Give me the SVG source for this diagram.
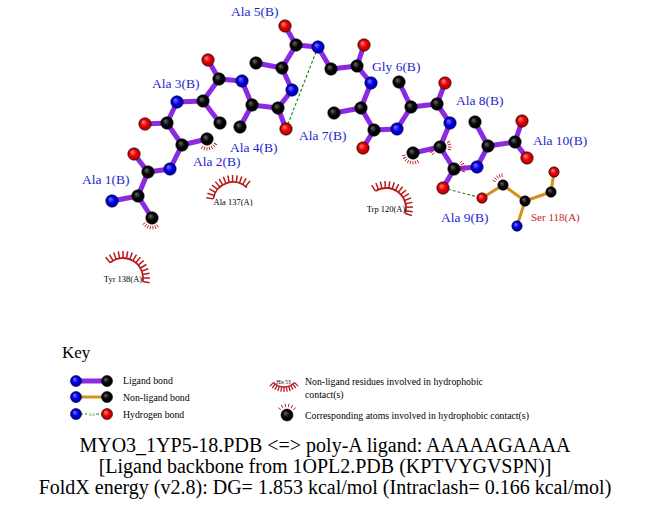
<svg xmlns="http://www.w3.org/2000/svg" xmlns:xlink="http://www.w3.org/1999/xlink" width="651" height="511" viewBox="0 0 651 511">
<defs>
<style>
text{font-family:"Liberation Serif","Times New Roman",serif}
.lab{font-size:13.5px;fill:#1f1fd0}
.res{font-size:8.5px;fill:#000}
.ser{font-size:11px;fill:#c81e1e}
.key{font-size:9.8px;fill:#000}
.tiny{font-size:5.5px;fill:#000}
.ttl{font-size:20px;fill:#000;text-anchor:middle}
.lig{stroke:#8a2be2;stroke-width:5;fill:none}
.nl{stroke:#d4901e;stroke-width:3;fill:none}
.hb{stroke:#1f8f1f;stroke-width:1.2;stroke-dasharray:3 2;fill:none}
.C{fill:url(#gC);stroke:#000;stroke-width:0.6}
.N{fill:url(#gN);stroke:#000;stroke-width:0.6}
.O{fill:url(#gO);stroke:#000;stroke-width:0.6}
.arc{stroke:#b81c1c;stroke-width:1.8;fill:none}
.tks{stroke:#c42020;stroke-width:0.9}
</style>
<radialGradient id="gC" cx="0.5" cy="0.5" r="0.5" fx="0.35" fy="0.32"><stop offset="0" stop-color="#6a6a6a"/><stop offset="0.55" stop-color="#050505"/><stop offset="1" stop-color="#000"/></radialGradient>
<radialGradient id="gN" cx="0.5" cy="0.5" r="0.5" fx="0.35" fy="0.32"><stop offset="0" stop-color="#7a7aff"/><stop offset="0.55" stop-color="#0000e8"/><stop offset="1" stop-color="#0000b0"/></radialGradient>
<radialGradient id="gO" cx="0.5" cy="0.5" r="0.5" fx="0.35" fy="0.32"><stop offset="0" stop-color="#ff8a8a"/><stop offset="0.55" stop-color="#e80000"/><stop offset="1" stop-color="#b00000"/></radialGradient>
<line id="tk" x1="8" y1="0" x2="11.5" y2="0"/>
<line id="sp" x1="20" y1="0" x2="27" y2="0"/>
<line id="sk" x1="15" y1="0" x2="20" y2="0"/>
</defs>

<g id="connectors">
<path class="lig" d="M112,201L138,196 M138,196L152,218 M138,196L148,172 M148,172L134,154 M148,172L170,169
M170,169L182,145 M182,145L207,139 M182,145L167,123 M167,123L145,124 M167,123L177,102
M177,102L203,101 M203,101L220,123 M203,101L219,79 M219,79L208,60 M219,79L242,81
M242,81L252,105 M252,105L240,127 M252,105L278,108 M278,108L286,129 M278,108L292,90
M292,90L282,68 M282,68L256,63 M282,68L296,45 M296,45L285,26 M296,45L318,47
M318,47L331,69 M331,69L357,66 M357,66L364,45 M357,66L371,83
M371,83L361,108 M361,108L334,113 M361,108L374,130 M374,130L363,148 M374,130L397,129
M397,129L411,107 M411,107L399,82 M411,107L437,104 M437,104L445,83 M437,104L450,123
M450,123L440,147 M440,147L413,153 M440,147L454,169 M454,169L443,188 M454,169L477,167
M477,167L488,146 M488,146L475,122 M488,146L515,142 M515,142L522,121 M515,142L527,158"/>
<path class="nl" d="M482,198L503,185 M503,185L525,201 M525,201L551,192 M551,192L554,172 M525,201L517,226"/>
<path class="hb" d="M286,129L318,47 M443,188L482,198"/>
</g>

<g id="spikes" class="tks">
<g transform="translate(207,139)"><use href="#tk" transform="rotate(30)"/><use href="#tk" transform="rotate(45)"/><use href="#tk" transform="rotate(60)"/><use href="#tk" transform="rotate(75)"/><use href="#tk" transform="rotate(90)"/><use href="#tk" transform="rotate(105)"/><use href="#tk" transform="rotate(120)"/></g>
<g transform="translate(152,218)"><use href="#tk" transform="rotate(55)"/><use href="#tk" transform="rotate(70)"/><use href="#tk" transform="rotate(85)"/><use href="#tk" transform="rotate(100)"/><use href="#tk" transform="rotate(115)"/><use href="#tk" transform="rotate(130)"/><use href="#tk" transform="rotate(145)"/></g>
<g transform="translate(413,153)"><use href="#tk" transform="rotate(60)"/><use href="#tk" transform="rotate(75)"/><use href="#tk" transform="rotate(90)"/><use href="#tk" transform="rotate(105)"/><use href="#tk" transform="rotate(120)"/><use href="#tk" transform="rotate(135)"/><use href="#tk" transform="rotate(150)"/><use href="#tk" transform="rotate(165)"/></g>
<g transform="translate(440,147)"><use href="#tk" transform="rotate(135)"/><use href="#tk" transform="rotate(150)"/><use href="#tk" transform="rotate(165)"/><use href="#tk" transform="rotate(-15)"/><use href="#tk" transform="rotate(0)"/><use href="#tk" transform="rotate(15)"/><use href="#tk" transform="rotate(-30)"/></g>
<g transform="translate(454,169)"><use href="#tk" transform="rotate(-45)"/><use href="#tk" transform="rotate(-30)"/><use href="#tk" transform="rotate(-15)"/><use href="#tk" transform="rotate(0)"/><use href="#tk" transform="rotate(15)"/></g>
<g transform="translate(503,185)"><use href="#tk" transform="rotate(-95)"/><use href="#tk" transform="rotate(-110)"/><use href="#tk" transform="rotate(-125)"/><use href="#tk" transform="rotate(-140)"/><use href="#tk" transform="rotate(-155)"/></g>
</g>

<g id="atoms">
<circle class="N" cx="112" cy="201" r="6.2"/><circle class="C" cx="138" cy="196" r="6.2"/><circle class="C" cx="152" cy="218" r="6.2"/><circle class="C" cx="148" cy="172" r="6.2"/><circle class="O" cx="134" cy="154" r="6.2"/>
<circle class="N" cx="170" cy="169" r="6.2"/><circle class="C" cx="182" cy="145" r="6.2"/><circle class="C" cx="207" cy="139" r="6.2"/><circle class="C" cx="167" cy="123" r="6.2"/><circle class="O" cx="145" cy="124" r="6.2"/>
<circle class="N" cx="177" cy="102" r="6.2"/><circle class="C" cx="203" cy="101" r="6.2"/><circle class="C" cx="220" cy="123" r="6.2"/><circle class="C" cx="219" cy="79" r="6.2"/><circle class="O" cx="208" cy="60" r="6.2"/>
<circle class="N" cx="242" cy="81" r="6.2"/><circle class="C" cx="252" cy="105" r="6.2"/><circle class="C" cx="240" cy="127" r="6.2"/><circle class="C" cx="278" cy="108" r="6.2"/><circle class="O" cx="286" cy="129" r="6.2"/>
<circle class="N" cx="292" cy="90" r="6.2"/><circle class="C" cx="282" cy="68" r="6.2"/><circle class="C" cx="256" cy="63" r="6.2"/><circle class="C" cx="296" cy="45" r="6.2"/><circle class="O" cx="285" cy="26" r="6.2"/>
<circle class="N" cx="318" cy="47" r="6.2"/><circle class="C" cx="331" cy="69" r="6.2"/><circle class="C" cx="357" cy="66" r="6.2"/><circle class="O" cx="364" cy="45" r="6.2"/>
<circle class="N" cx="371" cy="83" r="6.2"/><circle class="C" cx="361" cy="108" r="6.2"/><circle class="C" cx="334" cy="113" r="6.2"/><circle class="C" cx="374" cy="130" r="6.2"/><circle class="O" cx="363" cy="148" r="6.2"/>
<circle class="N" cx="397" cy="129" r="6.2"/><circle class="C" cx="411" cy="107" r="6.2"/><circle class="C" cx="399" cy="82" r="6.2"/><circle class="C" cx="437" cy="104" r="6.2"/><circle class="O" cx="445" cy="83" r="6.2"/>
<circle class="N" cx="450" cy="123" r="6.2"/><circle class="C" cx="440" cy="147" r="6.2"/><circle class="C" cx="413" cy="153" r="6.2"/><circle class="C" cx="454" cy="169" r="6.2"/><circle class="O" cx="443" cy="188" r="6.2"/>
<circle class="N" cx="477" cy="167" r="6.2"/><circle class="C" cx="488" cy="146" r="6.2"/><circle class="C" cx="475" cy="122" r="6.2"/><circle class="C" cx="515" cy="142" r="6.2"/><circle class="O" cx="522" cy="121" r="6.2"/><circle class="O" cx="527" cy="158" r="6.2"/>
</g>

<g id="ser118">
<circle class="O" cx="482" cy="198" r="5.2"/><circle class="C" cx="503" cy="185" r="5.2"/><circle class="C" cx="525" cy="201" r="5.2"/><circle class="C" cx="551" cy="192" r="5.2"/><circle class="O" cx="554" cy="172" r="5.2"/><circle class="N" cx="517" cy="226" r="5.2"/>
<text class="ser" x="531" y="221">Ser 118(A)</text>
</g>

<g id="labels">
<text class="lab" x="231" y="16">Ala 5(B)</text>
<text class="lab" x="152" y="88">Ala 3(B)</text>
<text class="lab" x="299" y="140">Ala 7(B)</text>
<text class="lab" x="230" y="152">Ala 4(B)</text>
<text class="lab" x="193" y="166">Ala 2(B)</text>
<text class="lab" x="82" y="184">Ala 1(B)</text>
<text class="lab" x="372" y="71">Gly 6(B)</text>
<text class="lab" x="456" y="105">Ala 8(B)</text>
<text class="lab" x="533" y="145">Ala 10(B)</text>
<text class="lab" x="441" y="222">Ala 9(B)</text>
</g>

<g id="ala137">
<g transform="translate(233,202)" class="tks" style="stroke:#b81c1c;stroke-width:1.5">
<path class="arc" d="M-19.75,-3.13A20,20 0 0 1 13.89,-14.39"/>
<use href="#sp" transform="rotate(-171)"/><use href="#sp" transform="rotate(-161)"/><use href="#sp" transform="rotate(-151)"/><use href="#sp" transform="rotate(-141)"/><use href="#sp" transform="rotate(-131)"/><use href="#sp" transform="rotate(-121)"/><use href="#sp" transform="rotate(-111)"/><use href="#sp" transform="rotate(-101)"/><use href="#sp" transform="rotate(-91)"/><use href="#sp" transform="rotate(-81)"/><use href="#sp" transform="rotate(-71)"/><use href="#sp" transform="rotate(-61)"/><use href="#sp" transform="rotate(-51)"/>
</g>
<text class="res" x="233" y="205" text-anchor="middle">Ala 137(A)</text>
</g>

<g id="trp120">
<g transform="translate(386,208)" class="tks" style="stroke:#b81c1c;stroke-width:1.5">
<path class="arc" d="M-10.6,-16.96A20,20 0 0 1 19.23,5.51"/>
<use href="#sp" transform="rotate(-122)"/><use href="#sp" transform="rotate(-112)"/><use href="#sp" transform="rotate(-102)"/><use href="#sp" transform="rotate(-92)"/><use href="#sp" transform="rotate(-82)"/><use href="#sp" transform="rotate(-72)"/><use href="#sp" transform="rotate(-62)"/><use href="#sp" transform="rotate(-52)"/><use href="#sp" transform="rotate(-42)"/><use href="#sp" transform="rotate(-32)"/><use href="#sp" transform="rotate(-22)"/><use href="#sp" transform="rotate(-12)"/><use href="#sp" transform="rotate(-2)"/><use href="#sp" transform="rotate(8)"/><use href="#sp" transform="rotate(16)"/>
</g>
<text class="res" x="386" y="212" text-anchor="middle">Trp 120(A)</text>
</g>

<g id="tyr138">
<g transform="translate(123,278)" class="tks" style="stroke:#b81c1c;stroke-width:1.5">
<path class="arc" d="M-12.86,-15.32A20,20 0 0 1 19.7,3.47"/>
<use href="#sp" transform="rotate(-130)"/><use href="#sp" transform="rotate(-120)"/><use href="#sp" transform="rotate(-110)"/><use href="#sp" transform="rotate(-100)"/><use href="#sp" transform="rotate(-90)"/><use href="#sp" transform="rotate(-80)"/><use href="#sp" transform="rotate(-70)"/><use href="#sp" transform="rotate(-60)"/><use href="#sp" transform="rotate(-50)"/><use href="#sp" transform="rotate(-40)"/><use href="#sp" transform="rotate(-30)"/><use href="#sp" transform="rotate(-20)"/><use href="#sp" transform="rotate(-10)"/><use href="#sp" transform="rotate(0)"/><use href="#sp" transform="rotate(10)"/>
</g>
<text class="res" x="123" y="282" text-anchor="middle">Tyr 138(A)</text>
</g>

<g id="key">
<text x="62" y="358" style="font-size:17px">Key</text>
<line class="lig" x1="76" y1="381" x2="107" y2="381"/>
<circle class="N" cx="76" cy="381" r="5.5"/><circle class="C" cx="107" cy="381" r="5.5"/>
<text class="key" x="123" y="384">Ligand bond</text>
<line class="nl" x1="76" y1="397" x2="107" y2="397"/>
<circle class="N" cx="76" cy="397" r="5.5"/><circle class="C" cx="107" cy="397" r="5.5"/>
<text class="key" x="123" y="401">Non-ligand bond</text>
<line class="hb" x1="80" y1="414" x2="87" y2="414"/><line class="hb" x1="96" y1="414" x2="103" y2="414"/>
<text x="91.5" y="416" text-anchor="middle" style="font-size:5px;fill:#1f8f1f">3.0</text>
<circle class="N" cx="76" cy="414" r="5.5"/><circle class="O" cx="107" cy="414" r="5.5"/>
<text class="key" x="123" y="418">Hydrogen bond</text>
<text class="tiny" x="283.5" y="384" text-anchor="middle">His 53</text>
<g transform="translate(284,372)" class="tks" style="stroke:#b81c1c;stroke-width:1.3">
<path class="arc" style="stroke-width:1.4" d="M-10.61,10.61A15,15 0 0 0 10.61,10.61"/>
<use href="#sk" transform="rotate(135)"/><use href="#sk" transform="rotate(126)"/><use href="#sk" transform="rotate(117)"/><use href="#sk" transform="rotate(108)"/><use href="#sk" transform="rotate(99)"/><use href="#sk" transform="rotate(90)"/><use href="#sk" transform="rotate(81)"/><use href="#sk" transform="rotate(72)"/><use href="#sk" transform="rotate(63)"/><use href="#sk" transform="rotate(54)"/><use href="#sk" transform="rotate(45)"/>
</g>
<text class="key" x="305" y="385">Non-ligand residues involved in hydrophobic</text>
<text class="key" x="305" y="398">contact(s)</text>
<g transform="translate(287,415)" class="tks"><use href="#tk" transform="rotate(-40)"/><use href="#tk" transform="rotate(-60)"/><use href="#tk" transform="rotate(-80)"/><use href="#tk" transform="rotate(-100)"/><use href="#tk" transform="rotate(-120)"/><use href="#tk" transform="rotate(-140)"/></g>
<circle class="C" cx="287" cy="415" r="6"/>
<text class="key" x="305" y="419">Corresponding atoms involved in hydrophobic contact(s)</text>
</g>

<g id="title">
<text class="ttl" x="325" y="452">MYO3_1YP5-18.PDB &lt;=&gt; poly-A ligand: AAAAAGAAAA</text>
<text class="ttl" x="325" y="473">[Ligand backbone from 1OPL2.PDB (KPTVYGVSPN)]</text>
<text class="ttl" x="325" y="494">FoldX energy (v2.8): DG= 1.853 kcal/mol (Intraclash= 0.166 kcal/mol)</text>
</g>
</svg>
